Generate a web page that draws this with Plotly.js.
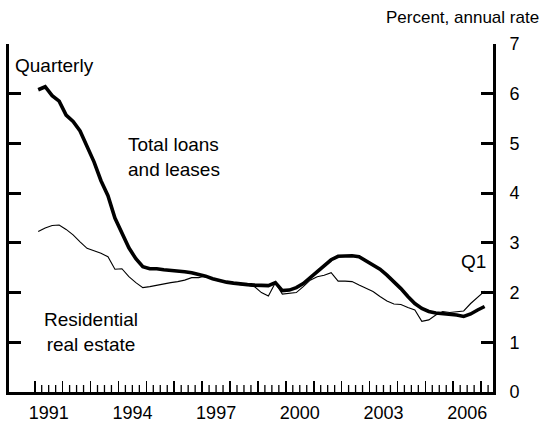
<!DOCTYPE html>
<html>
<head>
<meta charset="utf-8">
<script src="https://cdn.plot.ly/plotly-3.0.1.min.js"></script>
<style>html,body{margin:0;padding:0;background:#fff;}#chart{width:542px;height:423px;}</style>
</head>
<body>
<div id="chart"></div>
<script>
// Quarterly data, 1991Q1 .. 2007Q1
var startYear = 1991;
var totalLoans = [
  6.08, 6.14, 5.96, 5.85, 5.57, 5.44, 5.25, 4.95, 4.63, 4.25,
  3.95, 3.50, 3.20, 2.90, 2.68, 2.52, 2.48, 2.48, 2.46, 2.45,
  2.44, 2.42, 2.40, 2.37, 2.33, 2.28, 2.24, 2.21, 2.19, 2.17,
  2.16, 2.15, 2.14, 2.14, 2.20, 2.04, 2.05, 2.10, 2.18, 2.30,
  2.42, 2.55, 2.66, 2.73, 2.74, 2.74, 2.72, 2.63, 2.56, 2.47,
  2.35, 2.22, 2.08, 1.92, 1.78, 1.68, 1.62, 1.59, 1.58, 1.57,
  1.55, 1.52, 1.57, 1.65, 1.72
];
var residential = [
  3.23, 3.30, 3.35, 3.36, 3.27, 3.16, 3.02, 2.89, 2.84, 2.79,
  2.72, 2.47, 2.48, 2.32, 2.20, 2.10, 2.12, 2.15, 2.18, 2.20,
  2.22, 2.25, 2.30, 2.30, 2.34, 2.28, 2.25, 2.21, 2.18, 2.16,
  2.15, 2.12, 2.00, 1.93, 2.20, 1.97, 1.99, 2.00, 2.12, 2.25,
  2.32, 2.35, 2.40, 2.23, 2.23, 2.22, 2.15, 2.08, 2.02, 1.92,
  1.83, 1.77, 1.76, 1.70, 1.65, 1.42, 1.45, 1.55, 1.62, 1.60,
  1.62, 1.63, 1.78, 1.90, 2.03
];
var majorYears = [1991,1992,1993,1994,1995,1996,1997,1998,1999,2000,2001,2002,2003,2004,2005,2006,2007];
var labelYears = [1991, 1994, 1997, 2000, 2003, 2006];
var yTicks = [0,1,2,3,4,5,6,7];

// x position: middle of each quarter
var xq = totalLoans.map(function(_, k){ return startYear + k/4 + 0.125; });
var majorText = majorYears.map(function(y){ return labelYears.indexOf(y) >= 0 ? String(y) : ''; });
// quarter ticks between the year ticks, 1991 .. 2007Q2
var quarterTicks = [];
majorYears.forEach(function(y){ [0.25, 0.5, 0.75].forEach(function(f){ if (y + f < 2007.3) quarterTicks.push(y + f); }); });

var fontFam = 'Liberation Sans, Arial, sans-serif';
var traces = [
  {x: xq, y: residential, type: 'scatter', mode: 'lines', line: {color: '#000', width: 1.1}, hoverinfo: 'skip'},
  {x: xq, y: totalLoans, type: 'scatter', mode: 'lines', line: {color: '#000', width: 3.6}, hoverinfo: 'skip'},
  // short quarter tick marks drawn on the x axis
  {x: quarterTicks, y: quarterTicks.map(function(){ return 0; }), type: 'scatter', mode: 'markers',
   marker: {symbol: 'line-ns', size: 10, color: '#000', line: {color: '#000', width: 1.3}},
   cliponaxis: true, hoverinfo: 'skip'}
];
var xr = [1990.078, 2007.426];
var layout = {
  width: 542, height: 423,
  margin: {l: 9, r: 49, t: 44, b: 31},
  paper_bgcolor: '#fff', plot_bgcolor: '#fff',
  showlegend: false,
  font: {family: fontFam, size: 19, color: '#000'},
  xaxis: {
    range: xr, showgrid: false, zeroline: false,
    showline: true, linecolor: '#000', linewidth: 3,
    tickmode: 'array', tickvals: majorYears, ticktext: majorText,
    ticklabelshift: 14, ticklabelstandoff: 2,
    tickfont: {size: 18, family: fontFam, color: '#000'},
    ticks: 'inside', ticklen: 11, tickwidth: 1.6, tickcolor: '#000'
  },
  yaxis: {
    range: [0, 7], side: 'right', showgrid: false, zeroline: false,
    showline: true, linecolor: '#000', linewidth: 3, mirror: 'ticks',
    tickmode: 'array', tickvals: yTicks,
    ticks: 'inside', ticklen: 12, tickwidth: 3, tickcolor: '#000',
    ticklabelstandoff: 10,
    tickfont: {size: 18, family: fontFam, color: '#000'}
  },
  annotations: [
    {text: 'Percent, annual rate', font: {size: 17}, xref: 'paper', yref: 'paper', x: 1.099, y: 1.075, xanchor: 'right', yanchor: 'middle', showarrow: false},
    {text: 'Quarterly', xref: 'paper', yref: 'paper', x: 0.008, y: 0.937, xanchor: 'left', yanchor: 'middle', showarrow: false},
    {text: 'Total loans<br>and leases', xref: 'paper', yref: 'paper', x: 0.242, y: 0.675, xanchor: 'left', yanchor: 'middle', align: 'left', showarrow: false},
    {text: 'Residential<br>real estate', xref: 'paper', yref: 'paper', x: 0.169, y: 0.172, xanchor: 'center', yanchor: 'middle', align: 'center', showarrow: false},
    {text: 'Q1', xref: 'paper', yref: 'paper', x: 0.96, y: 0.374, xanchor: 'center', yanchor: 'middle', showarrow: false}
  ]
};
Plotly.newPlot('chart', traces, layout, {staticPlot: true, displayModeBar: false});
</script>
</body>
</html>
